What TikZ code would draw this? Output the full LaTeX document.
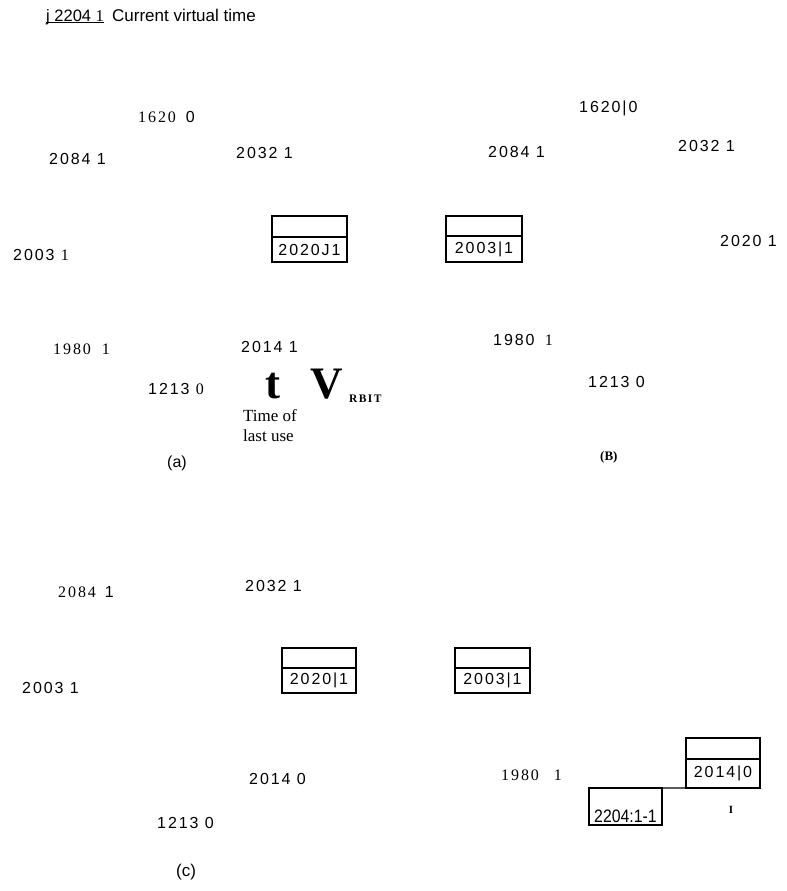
\documentclass[tikz,border=0pt]{standalone}
\usepackage{graphicx}
\usepackage{fontspec}
\setmainfont{Liberation Serif}
\newfontfamily\nsans[LetterSpace=12]{Liberation Sans}
\newfontfamily\nserif[LetterSpace=12]{Liberation Serif}
\newfontfamily\psans{Liberation Sans}
\newcommand\szn{\fontsize{16bp}{19bp}\selectfont}
\begin{document}
\begin{tikzpicture}[x=1bp,y=-1bp,
  lab/.style={inner sep=0pt, anchor=west, font=\nsans\szn},
  cellbox/.style={draw, line width=1.1bp, inner sep=0pt, outer sep=0pt, font=\nsans\szn},
  serifbase/.style={inner sep=0pt, anchor=base west, font=\fontsize{17bp}{20bp}\selectfont},
  bigbold/.style={inner sep=0pt, anchor=base west, font=\bfseries\fontsize{45bp}{50bp}\selectfont},
]
\useasboundingbox (0,0) rectangle (787,891);
% header
\node[inner sep=0pt, anchor=base west, font=\psans\fontsize{16.5bp}{19bp}\selectfont] (hdr) at (46,21) {j 2204 {\rmfamily 1}};
\draw[line width=0.9bp] ([yshift=-1.6bp]hdr.base west) -- ([yshift=-1.6bp]hdr.base east);
\node[inner sep=0pt, anchor=base west, font=\psans\fontsize{17bp}{20bp}\selectfont] (cvt) at (112,21) {Current virtual time};

% panel (a)
\node[lab] (a1620) at (138,117) {{\nserif 1620}\hspace{10bp}0};
\node[lab] (a2084) at (49,159) {2084 1};
\node[lab] (a2032) at (236,153) {2032 1};
\node[cellbox, minimum width=75bp, minimum height=21bp] (a2020t) at (309.5,226.5) {};
\node[cellbox, minimum width=75bp, minimum height=25bp, anchor=north] (a2020b) at (a2020t.south) {2020J1};
\node[lab] (a2003) at (13,255) {2003 {\nserif 1}};
\node[lab] (a1980) at (53,349) {\nserif 1980\hspace{11bp}1};
\node[lab] (a2014) at (241,347) {2014 1};
\node[lab] (a1213) at (148,389) {1213 {\nserif 0}};
\node[bigbold] (tlast) at (265,398) {t};
\node[bigbold] (vv) at (310,398) {V};
\node[inner sep=0pt, anchor=base west, font=\nserif\bfseries\fontsize{11.5bp}{13bp}\selectfont] (rbit) at (349,402) {RBIT};
\node[serifbase] (tof) at (243,421) {Time of};
\node[serifbase] (luse) at (243,441) {last use};
\node[lab, font=\psans\szn] (capa) at (167,463) {(a)};

% panel (b)
\node[cellbox, minimum width=76bp, minimum height=20bp] (b2003t) at (484,226) {};
\node[cellbox, minimum width=76bp, minimum height=26bp, anchor=north] (b2003b) at (b2003t.south) {2003|1};
\node[lab] (b1620) at (579,108) {1620|0};
\node[lab] (b2084) at (488,152) {2084 1};
\node[lab] (b2032) at (678,146) {2032 1};
\node[lab] (b2020) at (720,241) {2020 1};
\node[lab] (b1980) at (493,340) {1980\hspace{4bp} {\nserif 1}};
\node[lab] (b1213) at (588,382) {1213 0};
\node[inner sep=0pt, anchor=west, font=\bfseries\fontsize{13bp}{15bp}\selectfont] (capb) at (600,457) {(B)};

% panel (c)
\node[lab] (c2084) at (58,592) {{\nserif 2084}\hspace{9bp}1};
\node[lab] (c2032) at (245,586) {2032 1};
\node[cellbox, minimum width=74bp, minimum height=20bp] (c2020t) at (319,658) {};
\node[cellbox, minimum width=74bp, minimum height=25bp, anchor=north] (c2020b) at (c2020t.south) {2020|1};
\node[lab] (c2003) at (22,688) {2003 1};
\node[lab] (c2014) at (249,779) {2014 0};
\node[lab] (c1213) at (157,823) {1213 0};
\node[lab, font=\psans\fontsize{17bp}{20bp}\selectfont] (capc) at (176,872) {(c)};
\node[cellbox, minimum width=75bp, minimum height=20bp] (c2003t) at (492.5,658) {};
\node[cellbox, minimum width=75bp, minimum height=25bp, anchor=north] (c2003b) at (c2003t.south) {2003|1};
\node[lab] (c1980) at (501,775) {\nserif 1980\hspace{15bp}1};
\node[cellbox, minimum width=74bp, minimum height=21bp] (c2014t) at (723,748.5) {};
\node[cellbox, minimum width=74bp, minimum height=29bp, anchor=north] (c2014b) at (c2014t.south) {2014|0};
\node[cellbox, minimum width=73bp, minimum height=37bp, anchor=north west] (c2204) at (589,788) {};
\node[inner sep=0pt, font=\psans\fontsize{18bp}{20bp}\selectfont] (c2204txt) at (625.5,816) {\scalebox{0.88}[1]{2204:1-1}};
\draw[line width=1.1bp] (c2204.north east) -- (c2014b.south west);
\node[inner sep=0pt, font=\bfseries\fontsize{11bp}{13bp}\selectfont] (cI) at (731,810) {I};
\end{tikzpicture}
\end{document}
